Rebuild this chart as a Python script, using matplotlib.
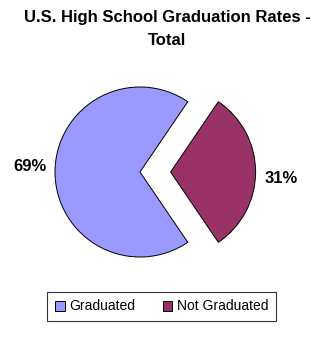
import matplotlib.pyplot as plt

labels = ["Graduated", "Not Graduated"]
shares = [69, 31]
colors = ["#9999FF", "#993366"]
title = "U.S. High School Graduation Rates -\nTotal"

W, H = 334, 338
R = 85.0          # pie radius in pixels
CX, CY = 140, 172  # pie centre in pixels from top-left


def draw_pie(ax):
    start = 180 - shares[0] / 100 * 360 / 2
    wedges, texts, autotexts = ax.pie(
        shares, colors=colors, explode=[0, 0.36], startangle=start,
        autopct='%1.0f%%', pctdistance=1.3,
        wedgeprops={'edgecolor': 'black', 'linewidth': 0.7},
        textprops={'fontsize': 12, 'fontweight': 'bold',
                   'family': 'Liberation Sans'})
    autotexts[0].set_y(autotexts[0].get_position()[1] + 0.06)
    autotexts[1].set_y(autotexts[1].get_position()[1] - 0.08)
    return wedges


def main():
    fig = plt.figure(figsize=(W / 100, H / 100), dpi=100)
    ax = fig.add_axes([0, 0, 1, 1])
    wedges = draw_pie(ax)
    ax.set_xlim(-CX / R, (W - CX) / R)
    ax.set_ylim(-(H - CY) / R, CY / R)
    ax.set_aspect('equal')
    ax.axis('off')

    fig.text(0.5, 1 - 29 / H, title, ha='center', va='center',
             fontsize=12, fontweight='bold', family='Liberation Sans',
             linespacing=1.65)

    leg = fig.legend(wedges, labels, ncol=2, loc='center',
                     bbox_to_anchor=(161.5 / W, 1 - 306.5 / H),
                     frameon=True, fancybox=False, edgecolor='black',
                     handlelength=0.7, handleheight=0.7, handletextpad=0.3,
                     columnspacing=2.0, borderpad=0.55,
                     prop={'family': 'Liberation Sans', 'size': 10})
    leg.get_frame().set_linewidth(0.8)
    fig.savefig("out.png", dpi=100)


if __name__ == "__main__":
    main()
